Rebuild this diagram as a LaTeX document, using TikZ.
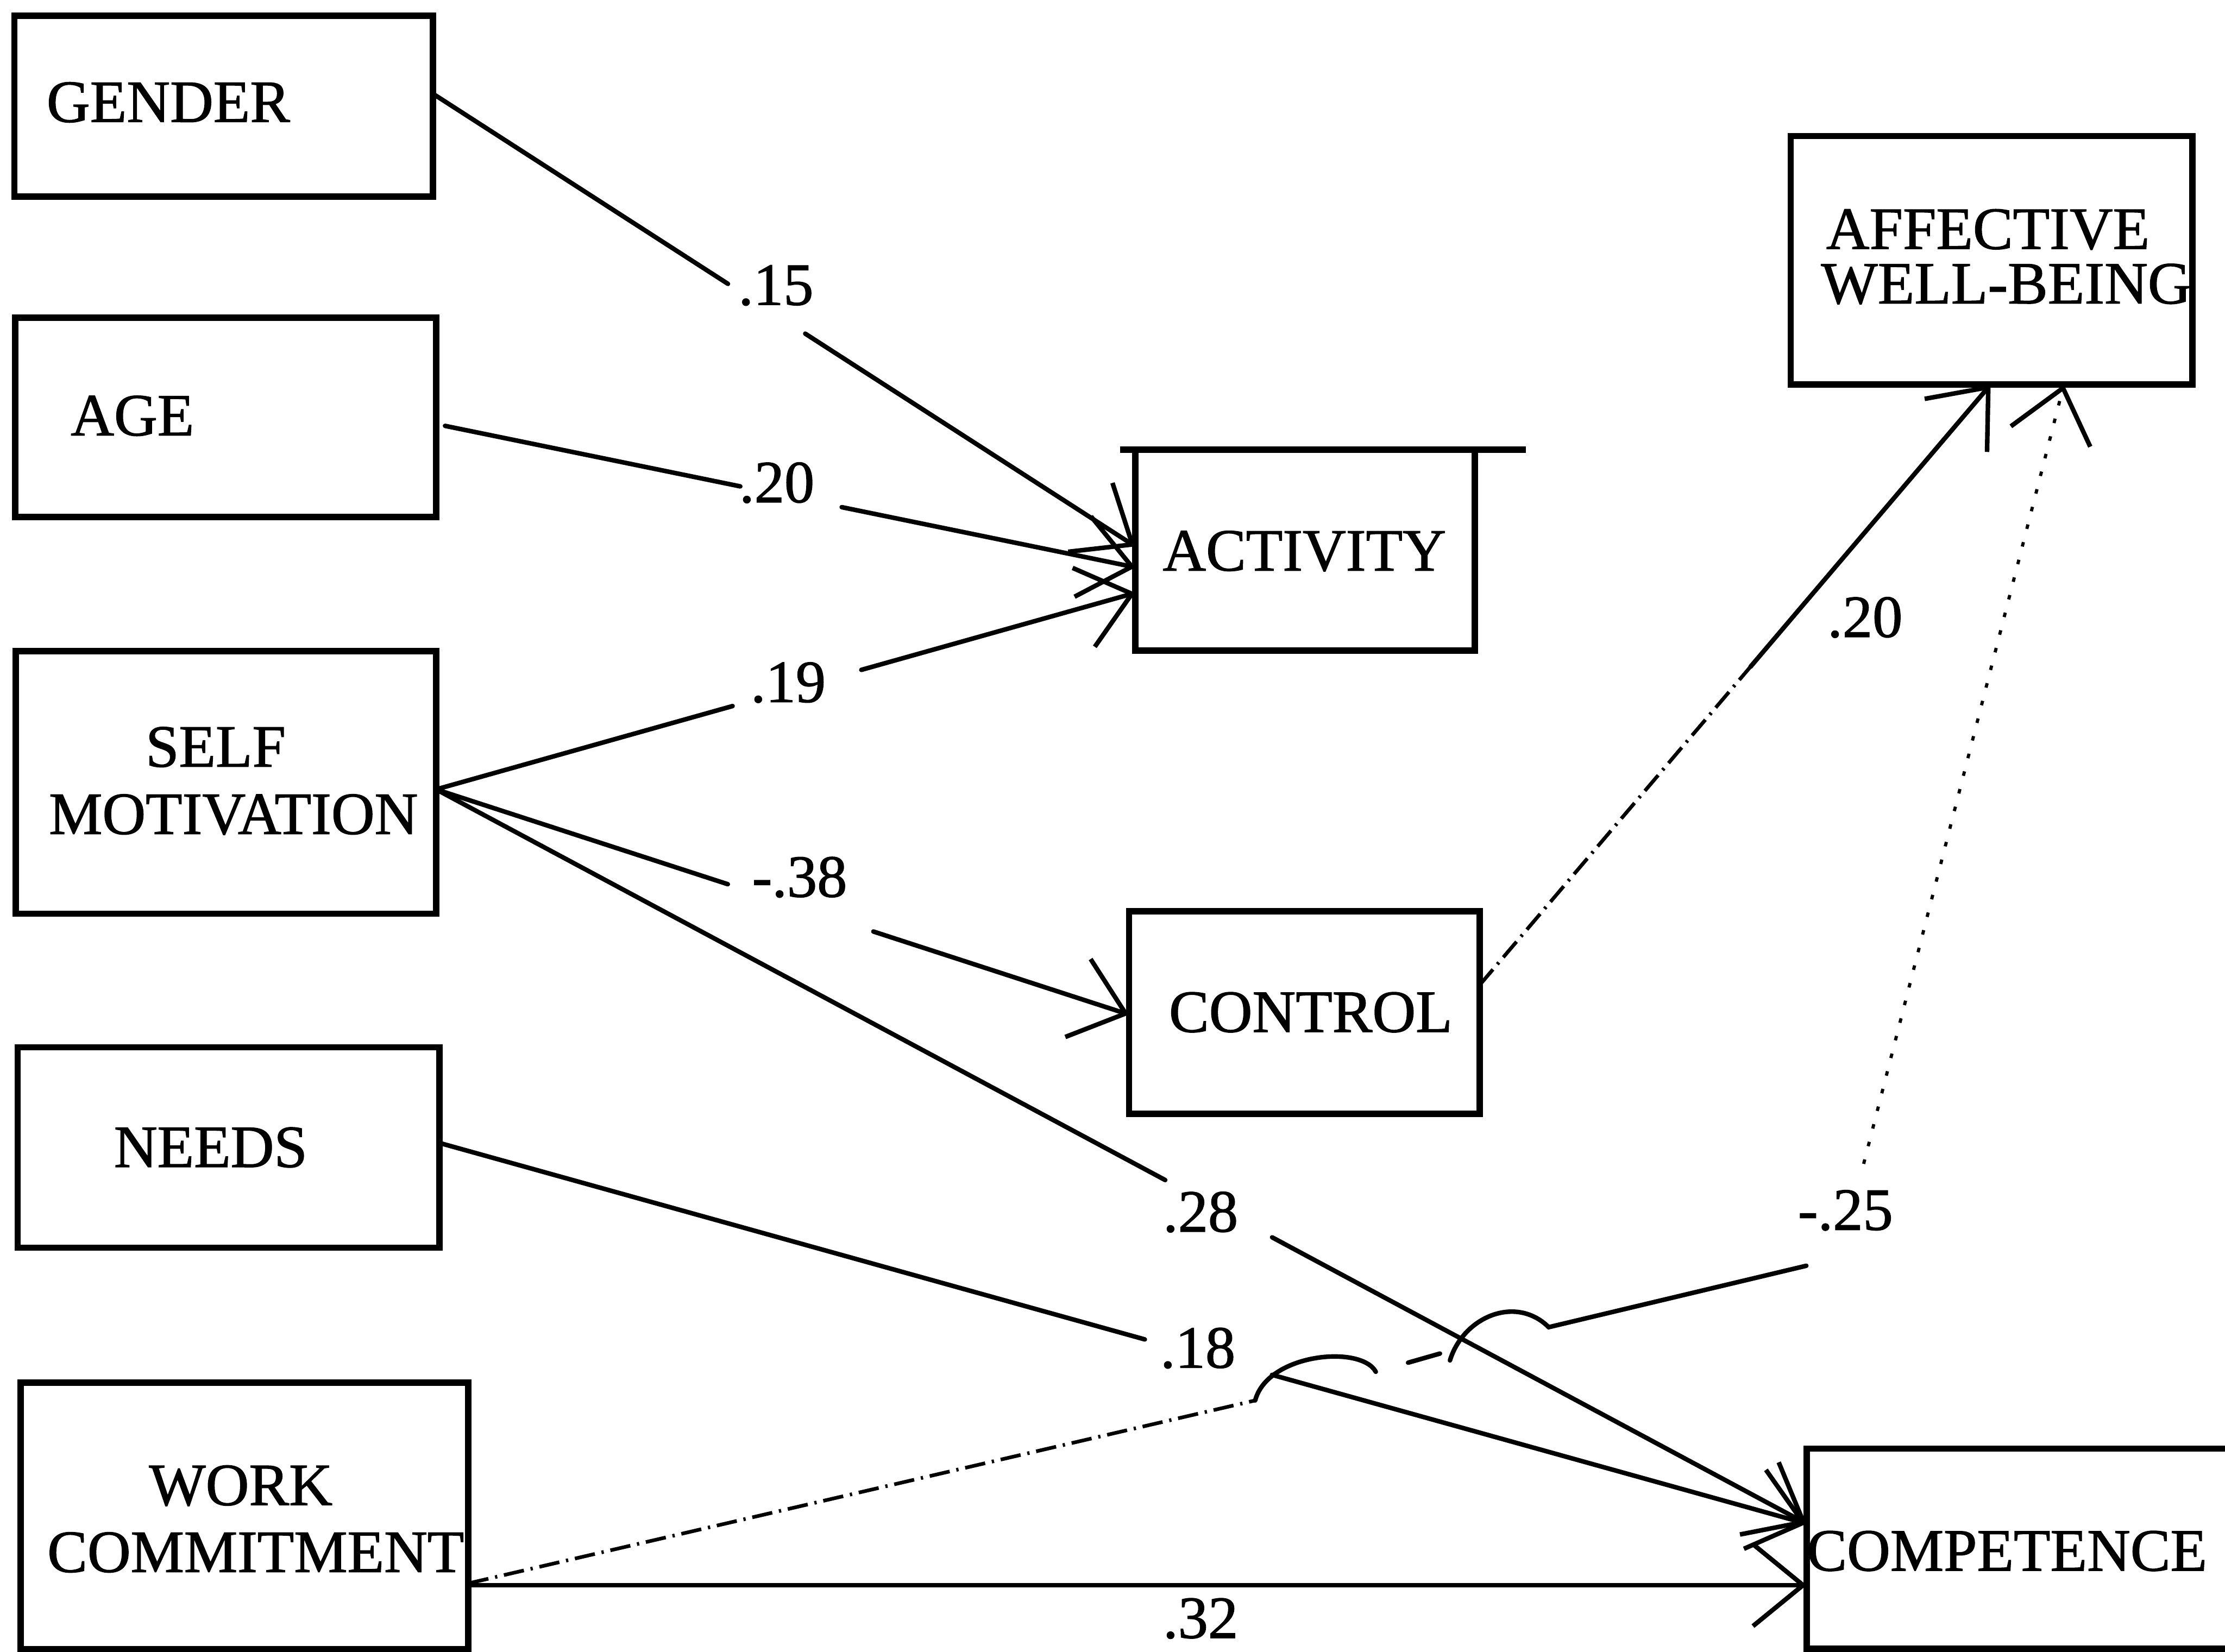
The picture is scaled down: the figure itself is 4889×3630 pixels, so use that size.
\documentclass[tikz,border=0pt]{standalone}
\usepackage{fontspec}
\setmainfont{Liberation Serif}[FakeBold=1.2]
\usetikzlibrary{arrows.meta,calc}
\newcommand\lblfont{\fontsize{37.5}{40}\selectfont}
\begin{document}
\begin{tikzpicture}[x=0.01cm,y=-0.01cm,
  box/.style={draw, line width=0.14cm, inner sep=0pt, outer sep=0pt, rectangle},
  txt/.style={font=\lblfont, anchor=base, inner sep=0pt},
  conn/.style={line width=0.1cm, line cap=round},
  tip/.style={-{Straight Barb[length=1.1cm, width=1.8cm, line width=0.1cm]}},
  arr/.style={conn, tip},
  dashdot/.style={line width=0.08cm, dash pattern=on 0.45cm off 0.15cm on 0.05cm off 0.15cm},
  sparse/.style={line width=0.07cm, dash pattern=on 0.1cm off 0.3cm}]
\useasboundingbox (0,0) rectangle (4889,3630);
\clip (0,0) rectangle (4889,3630);

% boxes
\node[box, minimum width=9.19cm, minimum height=3.97cm] (gender) at (491.5,233.5) {};
\node[box, minimum width=9.24cm, minimum height=4.38cm] (age) at (496,917) {};
\node[box, minimum width=9.23cm, minimum height=5.77cm] (selfm) at (496.5,1719.5) {};
\node[box, minimum width=9.26cm, minimum height=4.40cm] (needs) at (502,2522) {};
\node[box, minimum width=9.83cm, minimum height=5.86cm] (work) at (537.5,3332) {};
\node[box, minimum width=7.45cm, minimum height=4.42cm] (activity) at (2867.5,1209) {};
\node[box, minimum width=7.70cm, minimum height=4.45cm] (control) at (2866,2225.5) {};
\node[box, minimum width=8.82cm, minimum height=5.46cm] (awb) at (4376,572) {};
\node[box, minimum width=9.60cm, minimum height=4.40cm] (comp) at (4450,3404) {};
\draw[line width=0.14cm] (activity.north west) -- ++(-34,0);
\draw[line width=0.14cm] (activity.north east) -- ++(112,0);

% box texts
\node[txt] (gendert) at (370,268) {GENDER};
\node[txt] (aget) at (291,957) {AGE};
\node[txt] (selft1) at (474,1685) {SELF};
\node[txt] (selft2) at (513,1833) {MOTIVATION};
\node[txt] (needst) at (463,2565) {NEEDS};
\node[txt] (workt1) at (529,3308) {WORK};
\node[txt] (workt2) at (562,3455) {COMMITMENT};
\node[txt] (activityt) at (2866,1254) {ACTIVITY};
\node[txt] (controlt) at (2880,2268) {CONTROL};
\node[txt] (awbt1) at (4368,547) {AFFECTIVE};
\node[txt] (awbt2) at (4408,667) {WELL-BEING};
\node[txt] (compt) at (4410,3452) {COMPETENCE};

% path labels
\node[txt] (l15) at (1705,670) {.15};
\node[txt] (l20a) at (1707,1104) {.20};
\node[txt] (l19) at (1732,1543) {.19};
\node[txt] (l38) at (1757,1971) {-.38};
\node[txt] (l20b) at (4098,1400) {.20};
\node[txt] (l28) at (2638,2707) {.28};
\node[txt] (l25) at (4055,2703) {-.25};
\node[txt] (l18) at (2632,3006) {.18};
\node[txt] (l32) at (2638,3600) {.32};

% GENDER -> ACTIVITY
\coordinate (gS) at (gender.east |- 0,206);
\coordinate (gE) at (activity.west |- 0,1201);
\draw[conn] (gS) -- ($(gS)!0.42!(gE)$);
\draw[arr] ($(gS)!0.53!(gE)$) -- (gE);

% AGE -> ACTIVITY
\coordinate (aS) at (age.east |- 0,932);
\coordinate (aE) at (activity.west |- 0,1247);
\draw[conn, shorten <=0.2cm] (aS) -- ($(aS)!0.435!(aE)$);
\draw[arr] ($(aS)!0.58!(aE)$) -- (aE);

% SELF MOTIVATION -> ACTIVITY / CONTROL / COMPETENCE
\coordinate (sS) at (selfm.east |- 0,1735);
\coordinate (sE1) at (activity.west |- 0,1303);
\coordinate (sE2) at (control.west |- 0,2230);
\coordinate (sE3) at (comp.west |- 0,3349);
\draw[conn] (sS) -- ($(sS)!0.424!(sE1)$);
\draw[arr] ($(sS)!0.608!(sE1)$) -- (sE1);
\draw[conn] (sS) -- ($(sS)!0.421!(sE2)$);
\draw[arr] ($(sS)!0.631!(sE2)$) -- (sE2);
\draw[conn] (sS) -- ($(sS)!0.532!(sE3)$);
\draw[arr] ($(sS)!0.610!(sE3)$) -- (sE3);

% NEEDS -> COMPETENCE
\coordinate (nS) at (needs.east |- 0,2512);
\coordinate (nE) at (comp.west |- 0,3349);
\draw[conn] (nS) -- ($(nS)!0.516!(nE)$);
\draw[arr] ($(nS)!0.609!(nE)$) -- (nE);

% WORK COMMITMENT -> COMPETENCE
\coordinate (wS) at (work.east |- 0,3484);
\coordinate (wE) at (comp.west |- 0,3484);
\draw[arr] (wS) -- (wE);

% WORK COMMITMENT -> AFFECTIVE WELL-BEING
\coordinate (w2S) at (work.east |- 0,3480);
\coordinate (h1a) at (2758,3078);
\coordinate (h1b) at (3023,3015);
\coordinate (hd1) at (3094,2995);
\coordinate (hd2) at (3164,2975);
\coordinate (h2a) at (3186,2990);
\coordinate (h2b) at (3403,2917);
\coordinate (h2c) at (3969,2782);
\coordinate (h3) at (4095,2558);
\coordinate (w2E) at (awb.south -| 4535,0);
\draw[dashdot] (w2S) -- (h1a);
\draw[conn] (h1a) .. controls (2785,2975) and (2990,2955) .. (h1b);
\draw[conn] (hd1) -- (hd2);
\draw[conn] (h2a) .. controls (3215,2895) and (3330,2845) .. (h2b) -- (h2c);
\draw[sparse, tip] (h3) -- (w2E);

% CONTROL -> AFFECTIVE WELL-BEING
\coordinate (cS) at (control.east |- 0,2165);
\coordinate (cE) at (awb.south -| 4374,0);
\coordinate (cM) at ($(cS)!0.53!(cE)$);
\draw[dashdot] (cS) -- (cM);
\draw[arr] (cM) -- (cE);
\end{tikzpicture}
\end{document}
